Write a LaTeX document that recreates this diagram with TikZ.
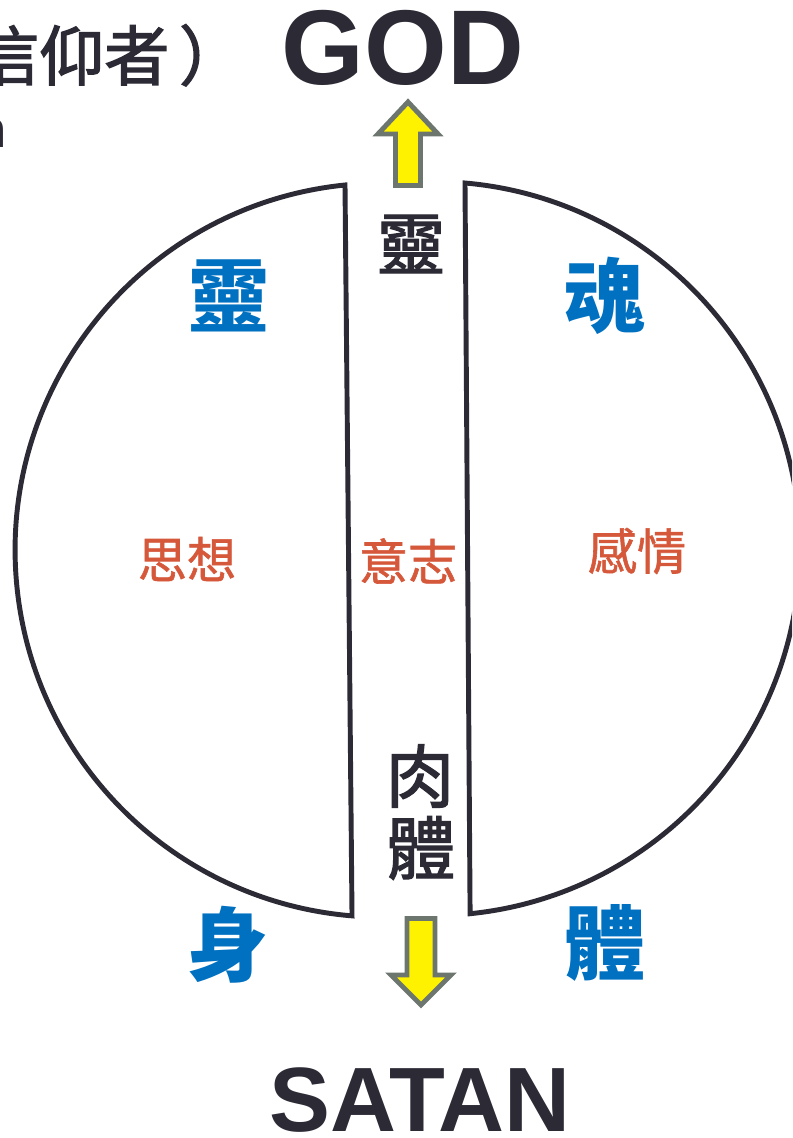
\documentclass[tikz,border=0pt]{standalone}
\usepackage{fontspec}
\setmainfont{Liberation Sans}
\newfontfamily\cjk{Noto Sans CJK TC}
\newfontfamily\cjkmid{Noto Sans CJK TC}[FakeBold=1.2]
\newfontfamily\cjkdark{Noto Sans CJK TC}[FakeBold=2]
\definecolor{ink}{HTML}{2B2A35}
\definecolor{soulblue}{HTML}{0070C0}
\definecolor{mindred}{HTML}{D6583B}
\definecolor{rim}{HTML}{6C766F}
\tikzset{
  % Big English words
  word/.style={font=\fontsize{#1}{#1}\selectfont\bfseries, text=ink,
    inner sep=0pt},
  % Chinese caption top left
  caption/.style={font=\cjkdark\fontsize{37pt}{37pt}\selectfont, text=ink,
    inner sep=0pt},
  % The three parts (blue)
  part/.style={font=\cjk\bfseries\fontsize{46pt}{46pt}\selectfont,
    text=soulblue, inner sep=0pt},
  % Faculties of the soul (red)
  faculty/.style={font=\cjkmid\fontsize{28pt}{28pt}\selectfont,
    text=mindred, inner sep=0pt},
  % Words in the gap
  gapword/.style={font=\cjkdark\fontsize{39pt}{39pt}\selectfont, text=ink,
    inner sep=0pt},
  % Half of the man
  half/.style={draw=ink, line width=2.8pt, line join=miter},
  % Block arrow
  block/.style={draw=rim, fill=yellow, line width=2.8pt, line join=miter},
}

\begin{document}
\begin{tikzpicture}[x=0.02cm, y=-0.02cm]
  \useasboundingbox (0,0) rectangle (792,1138);
  \clip (0,0) rectangle (792,1138);

  \node[caption, anchor=base west] (believer) at (-26,80)
    {信仰者\hspace{0.15em}）};
  \node[word=30pt, anchor=base east] (tail) at (7,148) {n};
  \node[word=60.5pt, anchor=base] (god) at (403,85) {GOD};
  \node[word=52pt, anchor=base] (satan) at (420,1131) {SATAN};

  % the two halves
  \draw[half] (345,185) arc[start angle=264.2, end angle=94.7, radius=367] -- cycle;
  \draw[half] (465,183) arc[start angle=-85, end angle=84.2, radius=367] -- cycle;

  % arrows up and down
  \draw[block] (395.5,185.5) -- (395.5,134) -- (378,134) -- (408,102)
    -- (438,134) -- (420.5,134) -- (420.5,185.5) -- cycle;
  \draw[block] (407,918.5) -- (407,975) -- (391,975) -- (421,1005)
    -- (451,975) -- (435,975) -- (435,918.5) -- cycle;

  \node[part] (spirit) at (229,296) {靈};
  \node[part] (soul) at (605,296) {魂};
  \node[part] (body) at (228,945) {身};
  \node[part] (frame) at (605,943) {體};

  \node[faculty] (mind) at (187,559) {思想};
  \node[faculty] (will) at (408,561) {意志};
  \node[faculty] (emotion) at (637,551) {感情};

  \node[gapword] (inner) at (411,244) {靈};
  \node[gapword] (meat) at (420,776) {肉};
  \node[gapword] (flesh) at (421,848) {體};
\end{tikzpicture}
\end{document}
